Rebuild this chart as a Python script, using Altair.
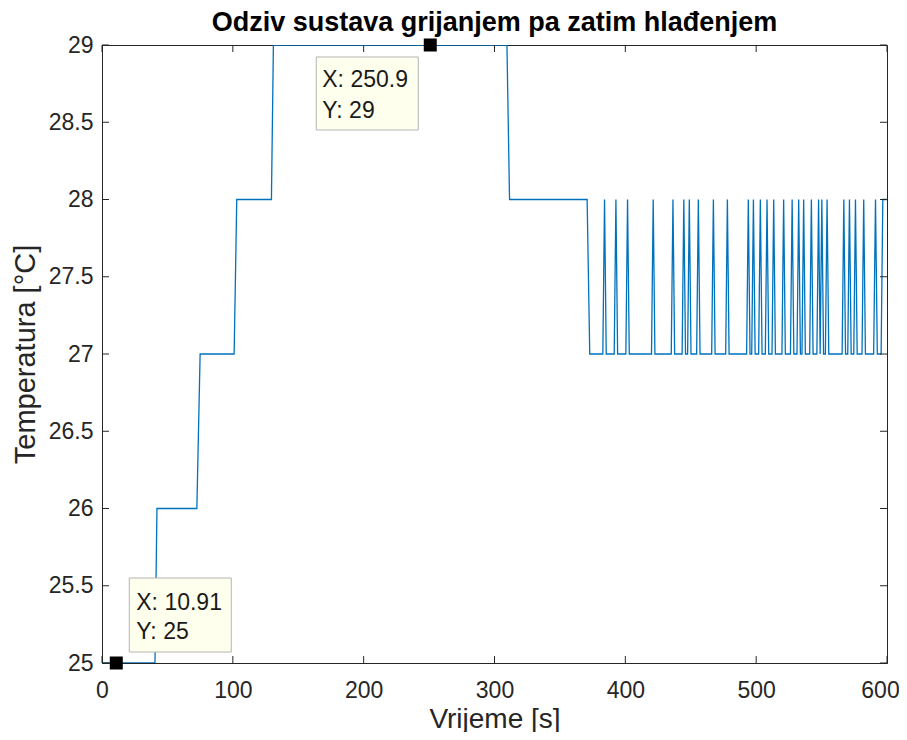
import altair as alt
import pandas as pd

# ---- data (time [s], temperature [degC]) ----
time_s = [
    0, 40.5, 42.0, 72.5, 75.0, 101.0, 103.0, 129.5, 131.0, 309.5, 311.5, 370.8, 372.8,
    382.8, 384.1, 385.4,   # 1
    391.5, 392.8, 394.1,   # 2
    400.4, 401.7, 403.0,   # 3
    420.0, 421.3, 422.6,   # 4
    435.1, 436.4, 437.7,   # 5
    443.4, 444.7, 446.0,   # 6
    447.6, 448.9, 450.2,   # 7
    454.5, 455.8, 457.1,   # 8
    466.0, 467.3, 468.6,   # 9
    476.7, 478.0, 479.3,   # 10
    492.7, 494.0, 495.3,   # 11
    496.6, 497.9, 499.2,   # 12
    501.9, 503.2, 504.5,   # 13
    507.0, 508.3, 509.6,   # 14
    512.1, 513.4, 514.7,   # 15
    519.7, 521.0, 522.3,   # 16
    526.2, 527.5, 528.8,   # 17
    531.2, 532.5, 533.8,   # 18
    535.0, 536.3, 537.6,   # 19
    540.9, 542.2, 543.5,   # 20
    546.4, 547.7, 548.9,   # 21
    550.2, 551.5,          # pair
    552.9, 554.2, 555.5,   # 22
    565.7, 567.0, 568.3,   # 23
    570.0, 571.3, 572.6,   # 24
    574.6, 575.9, 577.2,   # 25
    580.9, 582.2, 583.5,   # 26
    589.8, 591.2, 592.6,   # 27
    595.5, 596.8, 600.0,   # 28
]
temp_c = [
    25, 25, 26, 26, 27, 27, 28, 28, 29, 29, 28, 28, 27,
    27, 28, 27,   # 1
    27, 28, 27,   # 2
    27, 28, 27,   # 3
    27, 28, 27,   # 4
    27, 28, 27,   # 5
    27, 28, 27,   # 6
    27, 28, 27,   # 7
    27, 28, 27,   # 8
    27, 28, 27,   # 9
    27, 28, 27,   # 10
    27, 28, 27,   # 11
    27, 28, 27,   # 12
    27, 28, 27,   # 13
    27, 28, 27,   # 14
    27, 28, 27,   # 15
    27, 28, 27,   # 16
    27, 28, 27,   # 17
    27, 28, 27,   # 18
    27, 28, 27,   # 19
    27, 28, 27,   # 20
    27, 28, 27,   # 21
    28, 27,       # pair
    27, 28, 27,   # 22
    27, 28, 27,   # 23
    27, 28, 27,   # 24
    27, 28, 27,   # 25
    27, 28, 27,   # 26
    27, 28, 27,   # 27
    27, 28, 28,   # 28
]

tip_x = [250.9, 10.91]
tip_y = [29, 25]
tip_label_x = ["X: 250.9", "X: 10.91"]
tip_label_y = ["Y: 29", "Y: 25"]

x_ticks = [0, 100, 200, 300, 400, 500, 600]
y_ticks = [25, 25.5, 26, 26.5, 27, 27.5, 28, 28.5, 29]

W, H = 785, 618
AX = "#262626"
FONT = "Liberation Sans"

df = pd.DataFrame({"t": time_s, "T": temp_c})
df["i"] = range(len(df))
tips = pd.DataFrame({"t": tip_x, "T": tip_y, "lx": tip_label_x, "ly": tip_label_y})
xt = pd.DataFrame({"v": x_ticks})
yt = pd.DataFrame({"v": y_ticks})

xs = alt.Scale(domain=[0, 600], nice=False, zero=False)
ys = alt.Scale(domain=[25, 29], nice=False, zero=False)

xaxis = alt.Axis(values=x_ticks, tickSize=0, labelPadding=16, grid=False,
                 title="Vrijeme [s]", titleY=64, titleBaseline="alphabetic",
                 labelFlush=False,
                 labelOffset=alt.condition("datum.value == 600", alt.value(-7), alt.value(0)),
                 labelFontSize=23, titleFontSize=28, titleFontWeight="normal",
                 labelColor=AX, titleColor=AX, domainColor=AX, labelFont=FONT, titleFont=FONT)
yaxis = alt.Axis(values=y_ticks, tickSize=0, labelPadding=9, grid=False,
                 title="Temperatura [°C]", titlePadding=8,
                 labelExpr="format(datum.value, '~g')",
                 labelFontSize=23, titleFontSize=29, titleFontWeight="normal",
                 labelColor=AX, titleColor=AX, domainColor=AX, labelFont=FONT, titleFont=FONT)

line = alt.Chart(df).mark_line(color="#0072BD", strokeWidth=1.3, clip=True).encode(
    x=alt.X("t:Q", scale=xs, axis=xaxis),
    y=alt.Y("T:Q", scale=ys, axis=yaxis),
    order="i:Q",
)

# inward ticks (MATLAB style) on all four sides
tb = alt.Chart(xt).mark_rule(color=AX, strokeWidth=1).encode(
    x=alt.X("v:Q", scale=xs), y=alt.value(H), y2=alt.value(H - 7))
tt = alt.Chart(xt).mark_rule(color=AX, strokeWidth=1).encode(
    x=alt.X("v:Q", scale=xs), y=alt.value(0), y2=alt.value(7))
tl = alt.Chart(yt).mark_rule(color=AX, strokeWidth=1).encode(
    y=alt.Y("v:Q", scale=ys), x=alt.value(0), x2=alt.value(7))
tr = alt.Chart(yt).mark_rule(color=AX, strokeWidth=1).encode(
    y=alt.Y("v:Q", scale=ys), x=alt.value(W - 7), x2=alt.value(W))

# data tips
t1 = tips.iloc[[0]]
t2 = tips.iloc[[1]]

def tipbox(d, x0, x1, y0, y1):
    return alt.Chart(d).mark_rect(fill="#FFFFEE", stroke="#B4B4B4", strokeWidth=1,
                                  xOffset=x0, x2Offset=x1, yOffset=y0, y2Offset=y1).encode(
        x=alt.X("t:Q", scale=xs), x2="t:Q", y=alt.Y("T:Q", scale=ys), y2="T:Q")

def tiptext(d, field, dx, dy):
    return alt.Chart(d).mark_text(align="left", baseline="middle", font=FONT, fontSize=23,
                                  color="#1a1a1a", dx=dx, dy=dy).encode(
        x=alt.X("t:Q", scale=xs), y=alt.Y("T:Q", scale=ys), text=f"{field}:N")

box1 = tipbox(t1, -114, -12, 12, 85)
box2 = tipbox(t2, 13, 115, -85, -11)
txt1 = tiptext(t1, "lx", -108, 35) + tiptext(t1, "ly", -108, 66)
txt2 = tiptext(t2, "lx", 20, -60) + tiptext(t2, "ly", 20, -31)

markers = alt.Chart(tips).mark_square(color="black", size=169, opacity=1).encode(
    x=alt.X("t:Q", scale=xs), y=alt.Y("T:Q", scale=ys))

chart = alt.layer(line, tb, tt, tl, tr, box1, box2, txt1, txt2, markers).properties(
    width=W, height=H,
    background="white",
    title=alt.TitleParams("Odziv sustava grijanjem pa zatim hlađenjem", font=FONT,
                          fontSize=27, fontWeight="bold", color="black", offset=-3,
                          anchor="middle"),
    autosize=alt.AutoSizeParams(type="none"),
    padding={"left": 94, "top": 37, "right": 12, "bottom": 69},
).configure_view(stroke=AX, strokeWidth=1)

chart.save("out.html", embed_options={"renderer": "svg", "actions": False})
